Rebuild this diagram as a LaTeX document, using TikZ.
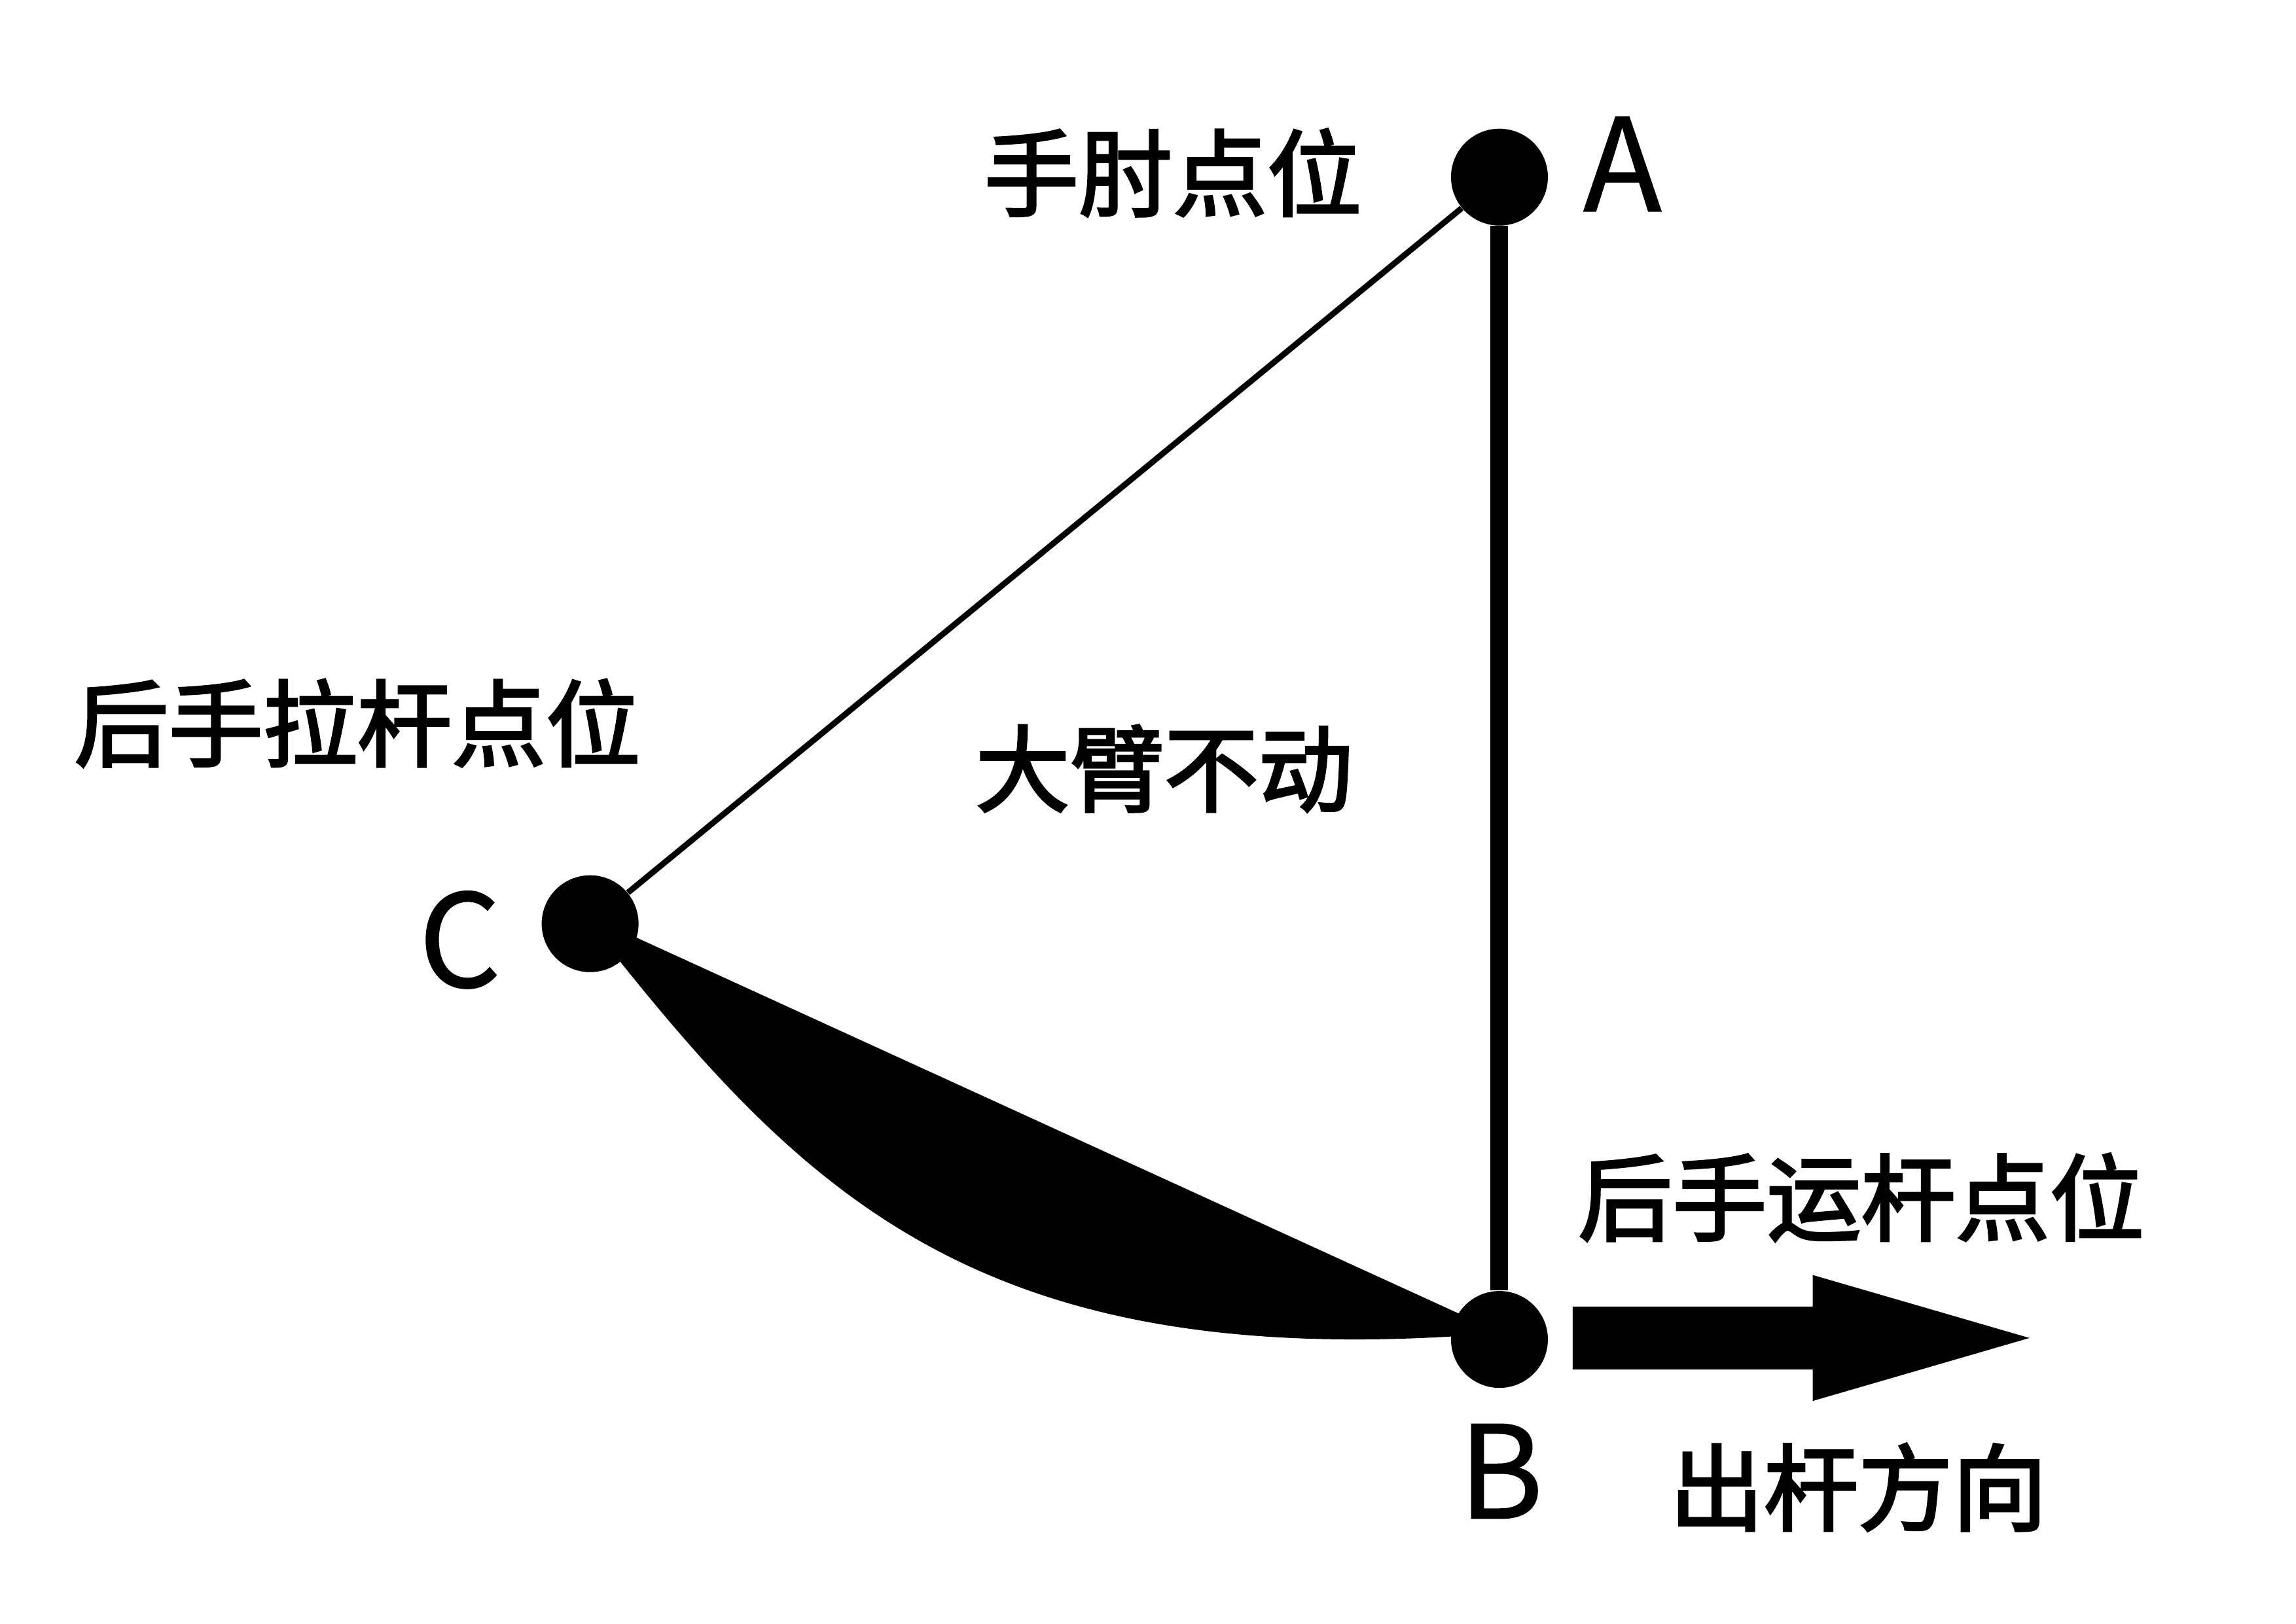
\documentclass[tikz,border=0pt]{standalone}
\usepackage{fontspec}
\usetikzlibrary{calc}
\newfontfamily\cjk[FakeBold=2.6]{Noto Sans CJK SC}
\newfontfamily\latn[FakeBold=0.8]{Noto Sans CJK SC}
\begin{document}
\begin{tikzpicture}[x=0.022372cm, y=-0.022372cm,
  dot/.style={circle, fill=black, inner sep=0pt, minimum size=1.48cm},
  lbl/.style={font=\cjk\fontsize{41pt}{45pt}\selectfont, inner sep=0pt},
  letter/.style={font=\latn\fontsize{56pt}{60pt}\selectfont, inner sep=0pt}]
\useasboundingbox (0,0) rectangle (1568,1109);
\fill[white] (0,0) rectangle (1568,1109);
\node[dot] (A) at (1024,121) {};
\node[dot] (B) at (1024,915) {};
\node[dot] (C) at (403,631) {};
% filled bow shape C -> B
\coordinate (bowEnd) at (991,913);
\fill[black] ($(C.center)+(0,-5)$) -- ($(B.center)+(0,-5)$) -- (bowEnd)
  .. controls (662,932) and (545,812) .. (C.center) -- cycle;
\draw[line width=0.09cm] (A) -- (C);
\draw[line width=0.27cm] (A.south) -- (B.north);
% arrow
\coordinate (arrS) at (1074,914);
\coordinate (arrE) at (1386,914);
\fill[black] (arrS) ++(0,-21.5) -- ++(164,0) -- ++(0,-21.5) -- (arrE) -- (1238,957) -- ++(0,-21.5) -- ++(-164,0) -- cycle;
% labels
\node[lbl] (tA) at (801,118) {手肘点位};
\node[letter] (lA) at (1108,112) {A};
\node[lbl] (tC) at (244,494) {后手拉杆点位};
\node[lbl] (tM) at (795,525) {大臂不动};
\node[letter] (lC) at (314,642) {C};
\node[lbl] (tB) at (1271,818) {后手运杆点位};
\node[letter] (lB) at (1025,1005) {B};
\node[lbl] (tD) at (1269,1016) {出杆方向};
\end{tikzpicture}
\end{document}
